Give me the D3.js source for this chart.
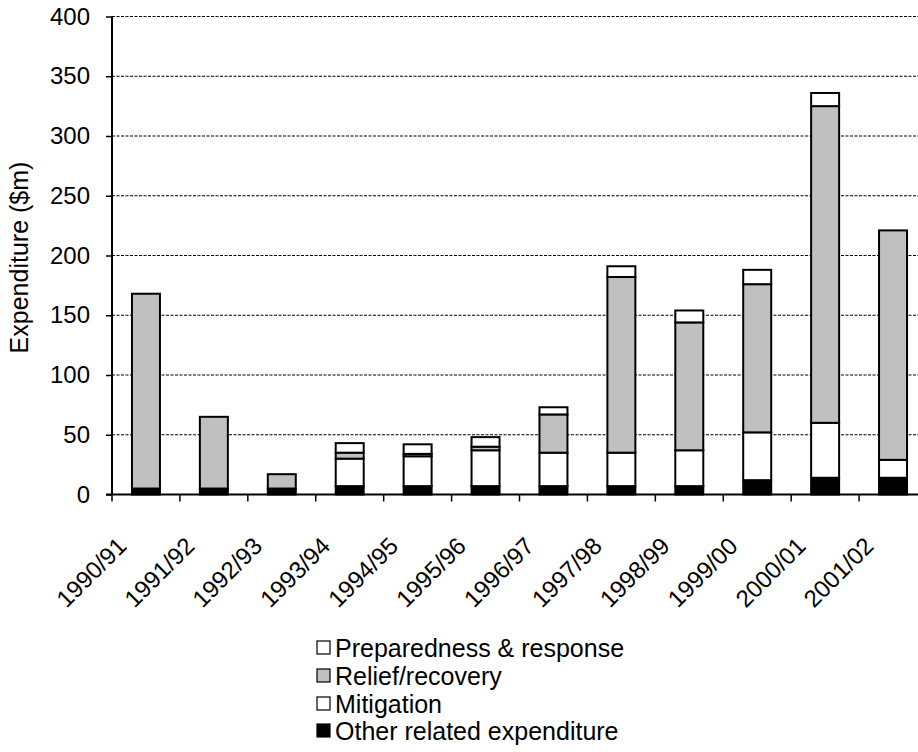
<!DOCTYPE html>
<html>
<head>
<meta charset="utf-8">
<script src="https://cdn.jsdelivr.net/npm/d3@7"></script>
<style>
  html, body { margin: 0; padding: 0; background: #fff; }
  svg { display: block; font-family: "Liberation Sans", Arial, sans-serif; }
</style>
</head>
<body>
<svg id="chart" width="918" height="752"></svg>
<script>
const categories = ["1990/91","1991/92","1992/93","1993/94","1994/95","1995/96","1996/97","1997/98","1998/99","1999/00","2000/01","2001/02"];
const other        = [5, 5, 5, 7, 7, 7, 7, 7, 7, 12, 14, 14];
const mitigation   = [0, 0, 0, 23, 25, 30, 28, 28, 30, 40, 46, 15];
const relief       = [163, 60, 12, 5, 2, 3, 32, 147, 107, 124, 265, 192];
const preparedness = [0, 0, 0, 8, 8, 8, 6, 9, 10, 12, 11, 0];
const yTicks = [0, 50, 100, 150, 200, 250, 300, 350, 400];
const seriesKeys = ["other", "mitigation", "relief", "preparedness"];
const seriesFill = {other: "#000000", mitigation: "#ffffff", relief: "#c0c0c0", preparedness: "#ffffff"};
const legendItems = [
  {key: "preparedness", label: "Preparedness & response"},
  {key: "relief", label: "Relief/recovery"},
  {key: "mitigation", label: "Mitigation"},
  {key: "other", label: "Other related expenditure"}
];

(function () {
const rows = categories.map((c, i) => ({
  cat: c, other: other[i], mitigation: mitigation[i], relief: relief[i], preparedness: preparedness[i]
}));

const svg = d3.select("#chart");
const pLeft = 112, pRight = 927, pTop = 16.5, pBottom = 494.5;
const fs = 24, fsL = 25;

const x = d3.scaleBand().domain(categories).range([pLeft, pRight]).paddingInner(0.588).paddingOuter(0.294);
const y = d3.scaleLinear().domain([0, 400]).range([pBottom, pTop]);

// gridlines
svg.append("g").selectAll("line").data(yTicks.filter(t => t > 0)).join("line")
  .attr("x1", pLeft).attr("x2", 918)
  .attr("y1", d => y(d)).attr("y2", d => y(d))
  .attr("stroke", "#000").attr("stroke-width", 1).attr("stroke-dasharray", "3,1.5");

// bars
const stack = d3.stack().keys(seriesKeys)(rows);
const gBars = svg.append("g");
stack.forEach(s => {
  gBars.append("g").selectAll("rect").data(s.filter(d => d[1] - d[0] > 0)).join("rect")
    .attr("x", d => x(d.data.cat))
    .attr("width", x.bandwidth())
    .attr("y", d => y(d[1]))
    .attr("height", d => y(d[0]) - y(d[1]))
    .attr("fill", seriesFill[s.key])
    .attr("stroke", "#000").attr("stroke-width", 2);
});

// y axis
const yAxis = d3.axisLeft(y).tickValues(yTicks).tickSize(6).tickPadding(16);
const gy = svg.append("g").attr("transform", `translate(${pLeft},0)`).call(yAxis);
gy.select(".domain").attr("stroke-width", 2).attr("d", `M0,${pTop}V${pBottom}`);
gy.selectAll(".tick line").attr("stroke-width", 1.5);
gy.selectAll(".tick text").attr("font-size", fs).attr("font-family", "Liberation Sans, Arial, sans-serif").attr("fill", "#000");

// x axis line and boundary ticks
svg.append("line").attr("x1", pLeft - 6).attr("x2", 918).attr("y1", pBottom).attr("y2", pBottom)
  .attr("stroke", "#000").attr("stroke-width", 2);
const boundaries = categories.map(c => x(c) - x.step() * 0.294);
svg.append("g").selectAll("line").data(boundaries).join("line")
  .attr("x1", d => d).attr("x2", d => d).attr("y1", pBottom).attr("y2", pBottom + 7)
  .attr("stroke", "#000").attr("stroke-width", 1.5);

// x labels rotated
svg.append("g").selectAll("text").data(categories).join("text")
  .attr("transform", d => `translate(${x(d) + x.bandwidth() / 2 - 18},${pBottom + 53}) rotate(-45)`)
  .attr("text-anchor", "end")
  .attr("font-size", fs)
  .text(d => d);

// y label
svg.append("text")
  .attr("transform", `translate(28,${(pTop + pBottom) / 2 + 2}) rotate(-90)`)
  .attr("text-anchor", "middle")
  .attr("font-size", fsL)
  .text("Expenditure ($m)");

// legend
const lg = svg.append("g");
const baselines = [657, 685, 713, 740];
legendItems.forEach((it, i) => {
  const by = baselines[i];
  lg.append("rect").attr("x", 317).attr("y", by - 16).attr("width", 13).attr("height", 13)
    .attr("fill", seriesFill[it.key]).attr("stroke", "#000").attr("stroke-width", 1.2);
  lg.append("text").attr("x", 335).attr("y", by).attr("font-size", fsL).text(it.label);
});
})();
</script>
</body>
</html>
